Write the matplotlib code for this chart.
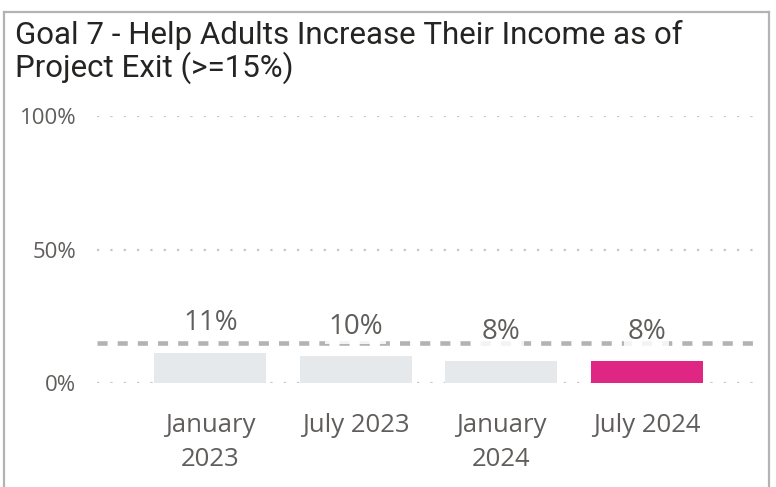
import matplotlib
matplotlib.use('Agg')
import matplotlib.pyplot as plt
from matplotlib.lines import Line2D
import numpy as np

# Chart data
categories = ['January\n2023', 'July 2023', 'January\n2024', 'July 2024']
values = [11.4, 10.0, 8.1, 8.1]          # percent of adults with increased income
target = 15                               # goal threshold (>=15%)
yticks = [0, 50, 100]
title = 'Goal 7 - Help Adults Increase Their Income as of\nProject Exit (>=15%)'

bar_grey = '#E6E9EC'
bar_pink = '#DF2682'
text_grey = '#605E5C'
grid_grey = '#C8C6C4'
dash_grey = '#B3B3B3'
border_grey = '#B3B3B3'


def main():
    fig = plt.figure(figsize=(7.76, 4.87), dpi=100)
    ax = fig.add_axes([97/776, 1 - 383/487, (760 - 97)/776, (383 - 116)/487])

    x = np.arange(len(categories))
    colors = [bar_grey]*(len(values) - 1) + [bar_pink]
    ax.bar(x, values, width=0.77, color=colors, zorder=2)

    # target line
    ax.axhline(target, color=dash_grey, lw=3.3, ls=(0, (2.2, 2.2)),
               zorder=3, xmin=0, xmax=1)

    # data labels with translucent backing
    for xi, v in zip(x, values):
        ax.annotate(f'{v:.0f}%', (xi, v), xytext=(0, 11),
                    textcoords='offset points', ha='center', va='bottom',
                    fontsize=20, color=text_grey, family='Open Sans',
                    zorder=4,
                    bbox=dict(boxstyle='square,pad=0.12', fc='white',
                              ec='none', alpha=0.85))

    ax.set_xlim(-0.78, 3.78)
    ax.set_ylim(0, 100)
    ax.set_yticks(yticks)
    ax.set_yticklabels([f'{t}%' for t in yticks])
    ax.set_xticks(x)
    ax.set_xticklabels(categories, linespacing=1.5)
    for lab in ax.get_yticklabels():
        lab.set_family('Open Sans')
        lab.set_fontsize(16)
        lab.set_color(text_grey)
    for lab in ax.get_xticklabels():
        lab.set_family('Open Sans')
        lab.set_fontsize(18.5)
        lab.set_color(text_grey)
    ax.tick_params(axis='both', length=0)
    ax.tick_params(axis='y', pad=15)
    ax.tick_params(axis='x', pad=21.5)

    ax.grid(axis='y', color=grid_grey, lw=1.6, ls=(0, (1, 5)), zorder=1)
    ax.set_axisbelow(True)
    for s in ax.spines.values():
        s.set_visible(False)

    fig.text(15/776, 1 - 20/487, title, ha='left', va='top',
             fontsize=22.5, color='#252423', family='Roboto',
             linespacing=1.07)

    # visual border
    W, H = 776, 487
    fig.add_artist(Line2D([4/W, 4/W], [0, 1 - 12/H], color=border_grey,
                          lw=1.6, transform=fig.transFigure))
    fig.add_artist(Line2D([4/W, 769/W], [1 - 12/H, 1 - 12/H],
                          color=border_grey, lw=1.6,
                          transform=fig.transFigure))
    fig.add_artist(Line2D([769/W, 769/W], [0, 1 - 12/H], color=border_grey,
                          lw=1.6, transform=fig.transFigure))

    fig.savefig('out.png', dpi=100)
    plt.close(fig)


if __name__ == '__main__':
    main()
